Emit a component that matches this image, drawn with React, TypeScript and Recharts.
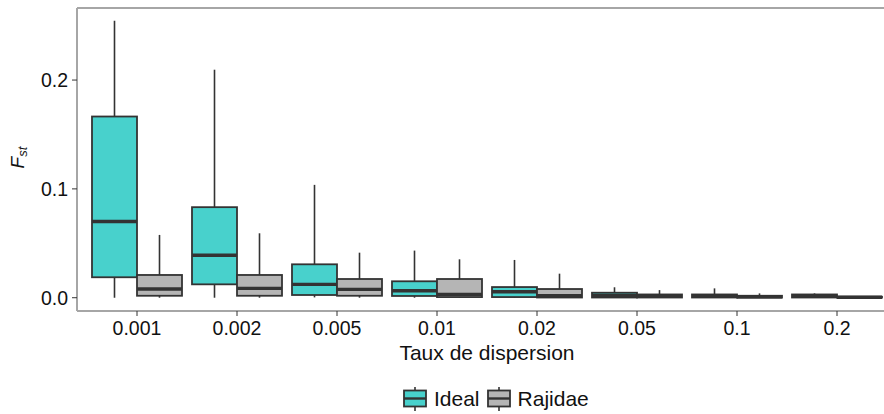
import React from 'react';
import { ComposedChart, Bar, XAxis, YAxis, ReferenceLine } from 'recharts';

// dispersion rates (x categories)
const categories = ['0.001', '0.002', '0.005', '0.01', '0.02', '0.05', '0.1', '0.2'];

// Ideal boxplot stats
const idealMin = [0, 0, 0.0003, 0, 0, 0, 0, 0];
const idealQ1 = [0.0188, 0.0123, 0.0025, 0.0016, 0.0006, 0.0002, 0.0002, 0.0002];
const idealMedian = [0.07, 0.039, 0.0123, 0.0064, 0.0055, 0.002, 0.0015, 0.0015];
const idealQ3 = [0.1665, 0.0832, 0.0307, 0.0151, 0.0098, 0.0046, 0.003, 0.003];
const idealMax = [0.2545, 0.2095, 0.1037, 0.0433, 0.0347, 0.0096, 0.0086, 0.004];

// Rajidae boxplot stats
const rajMin = [0, 0, 0, 0, 0, 0, 0, 0];
const rajQ1 = [0.0018, 0.0018, 0.0018, 0.0006, 0.0002, 0.0002, 0.0001, 0.0001];
const rajMedian = [0.008, 0.0086, 0.0077, 0.0031, 0.0018, 0.0012, 0.0008, 0.0004];
const rajQ3 = [0.0209, 0.0209, 0.0172, 0.0172, 0.008, 0.003, 0.0018, 0.0009];
const rajMax = [0.0577, 0.0592, 0.0414, 0.0353, 0.0221, 0.007, 0.004, 0.0012];

const yTicks = [0, 0.1, 0.2];
const yDomain = [-0.0122, 0.2662];

const IDEAL = '#48D1CC';
const RAJ = '#B5B5B5';
const OUTLINE = '#333333';
const BORDER = '#A6A6A6';
const FONT = '"Liberation Sans", Arial, Helvetica, sans-serif';

const data = categories.map((cat, i) => ({
  cat,
  ideal: { min: idealMin[i], q1: idealQ1[i], med: idealMedian[i], q3: idealQ3[i], max: idealMax[i] },
  raj: { min: rajMin[i], q1: rajQ1[i], med: rajMedian[i], q3: rajQ3[i], max: rajMax[i] },
}));

// the bar spans min..max, everything else is placed inside that span
const boxShape = (key: 'ideal' | 'raj', fill: string) => (props: any) => {
  const { x, y, width, height, payload } = props;
  const s = payload[key];
  const top = Math.min(y, y + height);
  const bottom = Math.max(y, y + height);
  const span = s.max - s.min || 1;
  const py = (v: number) => bottom - ((v - s.min) / span) * (bottom - top);
  const cx = x + width / 2;
  return (
    <g>
      <line x1={cx} x2={cx} y1={py(s.max)} y2={py(s.min)} stroke={OUTLINE} strokeWidth={1.6} />
      <rect
        x={x}
        y={py(s.q3)}
        width={width}
        height={Math.max(py(s.q1) - py(s.q3), 0.5)}
        fill={fill}
        stroke={OUTLINE}
        strokeWidth={1.8}
      />
      <line x1={x} x2={x + width} y1={py(s.med)} y2={py(s.med)} stroke={OUTLINE} strokeWidth={3.4} />
    </g>
  );
};

const XTitle = (props: any) => {
  const vb = props.viewBox || { x: 77, y: 311, width: 820 };
  return (
    <text x={vb.x + vb.width / 2} y={vb.y + 49} textAnchor="middle" fontSize={21} fill="#111" fontFamily={FONT}>
      Taux de dispersion
    </text>
  );
};

const YTitle = (props: any) => {
  const vb = props.viewBox || { x: 0, y: 8, height: 303 };
  const cx = 24;
  const cy = vb.y + vb.height / 2 - 2;
  return (
    <text x={cx} y={cy} transform={`rotate(-90, ${cx}, ${cy})`} textAnchor="middle" fill="#111" fontFamily={FONT}>
      <tspan fontSize={19} fontStyle="italic">F</tspan>
      <tspan fontSize={13} fontStyle="italic" dy={3}>st</tspan>
    </text>
  );
};

const LegendKey = ({ fill }: { fill: string }) => (
  <svg width={24} height={24} style={{ display: 'block' }}>
    <line x1={12} x2={12} y1={0} y2={24} stroke={OUTLINE} strokeWidth={1.6} />
    <rect x={1} y={3.5} width={22} height={16} fill={fill} stroke={OUTLINE} strokeWidth={1.8} />
    <line x1={1} x2={23} y1={11.5} y2={11.5} stroke={OUTLINE} strokeWidth={2.4} />
  </svg>
);

export default function App() {
  return (
    <div style={{ position: 'absolute', left: 0, top: 0, width: 884, height: 414, overflow: 'hidden', background: '#fff' }}>
      <ComposedChart
        width={900}
        height={414}
        data={data}
        margin={{ top: 8, right: 3, bottom: 43, left: 0 }}
        barCategoryGap="5%"
        barGap={0}
        style={{ fontFamily: FONT }}
      >
        <XAxis
          dataKey="cat"
          height={60}
          padding={{ left: 10, right: 10 }}
          axisLine={{ stroke: BORDER, strokeWidth: 2 }}
          tickLine={{ stroke: OUTLINE, strokeWidth: 1 }}
          tickSize={5}
          tickMargin={5}
          tick={{ fontSize: 19.5, fill: '#111' }}
          interval={0}
          label={<XTitle />}
        />
        <YAxis
          width={77}
          domain={yDomain}
          ticks={yTicks}
          allowDataOverflow
          tickFormatter={(v: number) => v.toFixed(1)}
          axisLine={{ stroke: BORDER, strokeWidth: 2 }}
          tickLine={{ stroke: OUTLINE, strokeWidth: 1 }}
          tickSize={5}
          tickMargin={4}
          tick={{ fontSize: 19.5, fill: '#111' }}
          label={<YTitle />}
        />
        {/* top edge of the panel border */}
        <ReferenceLine y={yDomain[1]} stroke={BORDER} strokeWidth={2} ifOverflow="visible" />
        <Bar
          dataKey={(d: any) => [d.ideal.min, d.ideal.max]}
          name="Ideal"
          fill={IDEAL}
          shape={boxShape('ideal', IDEAL)}
          isAnimationActive={false}
        />
        <Bar
          dataKey={(d: any) => [d.raj.min, d.raj.max]}
          name="Rajidae"
          fill={RAJ}
          shape={boxShape('raj', RAJ)}
          isAnimationActive={false}
        />
      </ComposedChart>
      <div
        style={{
          position: 'absolute',
          left: 403,
          top: 387,
          display: 'flex',
          alignItems: 'center',
          fontFamily: FONT,
          fontSize: 21,
          color: '#111',
          lineHeight: '24px',
        }}
      >
        <LegendKey fill={IDEAL} />
        <span style={{ marginLeft: 7, marginRight: 7 }}>Ideal</span>
        <LegendKey fill={RAJ} />
        <span style={{ marginLeft: 7 }}>Rajidae</span>
      </div>
    </div>
  );
}
